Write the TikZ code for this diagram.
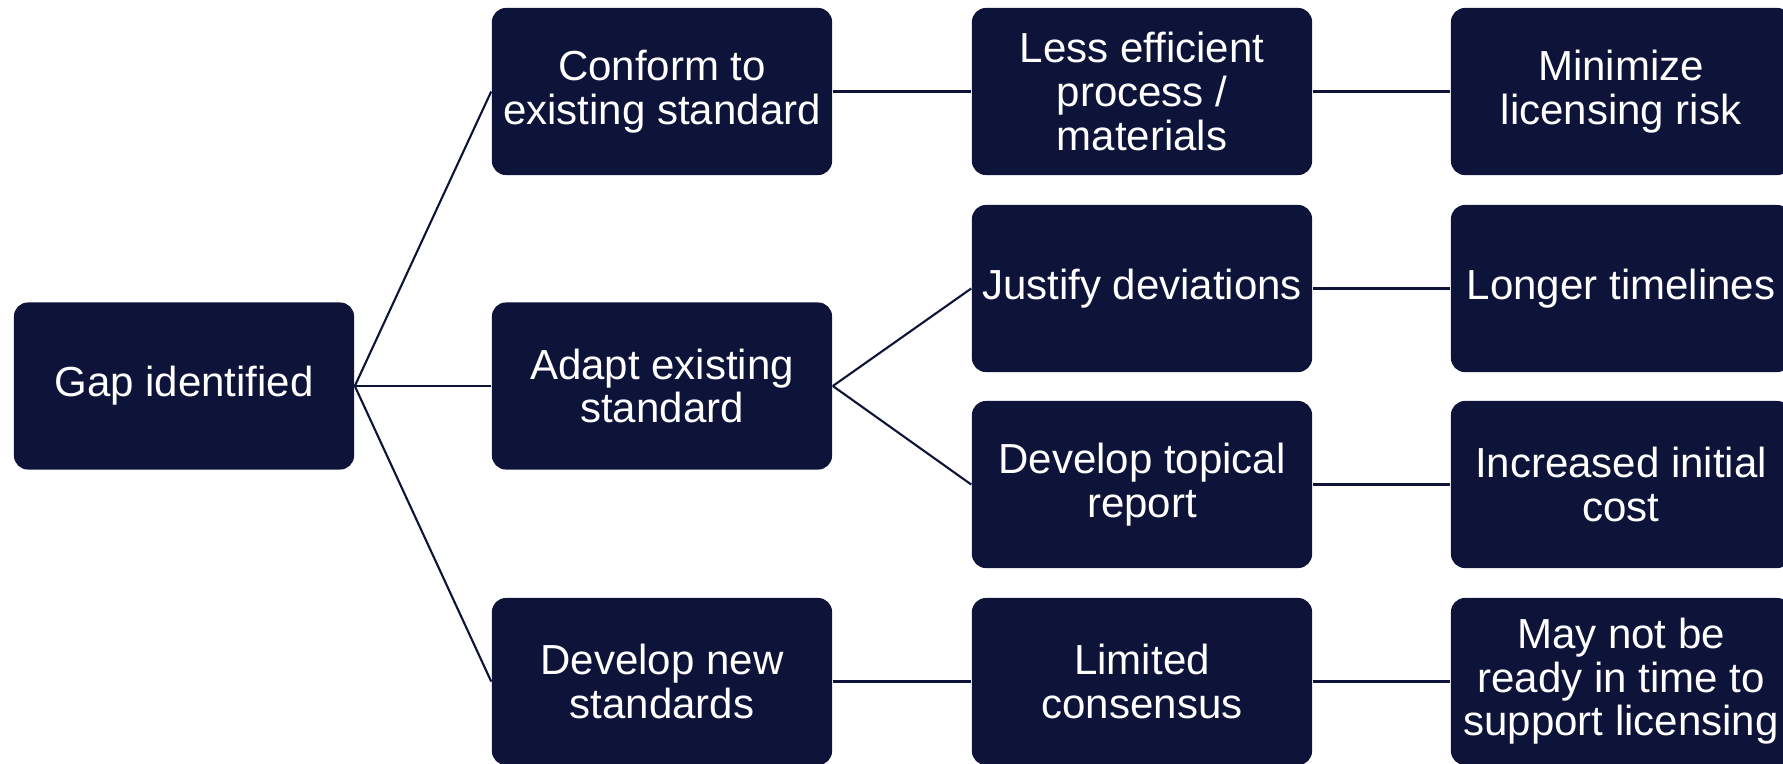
\documentclass[tikz,border=0pt]{standalone}
\usepackage{fontspec}
\setmainfont{Liberation Sans}
\definecolor{navy}{HTML}{0E1339}
\begin{document}
\begin{tikzpicture}[x=0.01cm, y=-0.01cm,
  box/.style={fill=navy, rounded corners=0.14cm, minimum width=3.4cm, minimum height=1.67cm,
    inner sep=0pt, text=white, align=center, font=\fontsize{11.95}{12.4}\selectfont},
  link/.style={draw=navy, line width=0.6pt}]
\useasboundingbox (0,0) rectangle (1783,763);
\node[box] (gap) at (184,386){Gap identified};
\node[box] (conform) at (662,91.5){Conform to\\existing standard};
\node[box] (adapt) at (662,386){Adapt existing\\standard};
\node[box] (newstd) at (662,681.5){Develop new\\standards};
\draw[link](gap.east) -- (conform.west);
\draw[link](gap.east) -- (adapt.west);
\draw[link](gap.east) -- (newstd.west);
\node[box] (lesseff) at (1142,91.5){Less efficient\\process /\\materials};
\node[box] (justify) at (1142,288.5){Justify deviations};
\node[box] (topical) at (1142,484.5){Develop topical\\report};
\node[box] (consensus) at (1142,681.5){Limited\\consensus};
\draw[link](conform.east) -- (lesseff.west);
\draw[link](adapt.east) -- (justify.west);
\draw[link](adapt.east) -- (topical.west);
\draw[link](newstd.east) -- (consensus.west);
\node[box] (minrisk) at (1621,91.5){Minimize\\licensing risk};
\node[box] (longer) at (1621,288.5){Longer timelines};
\node[box] (cost) at (1621,484.5){Increased initial\\cost};
\node[box] (notready) at (1621,681.5){May not be\\ready in time to\\support licensing};
\draw[link](lesseff.east) -- (minrisk.west);
\draw[link](justify.east) -- (longer.west);
\draw[link](topical.east) -- (cost.west);
\draw[link](consensus.east) -- (notready.west);
\end{tikzpicture}
\end{document}
